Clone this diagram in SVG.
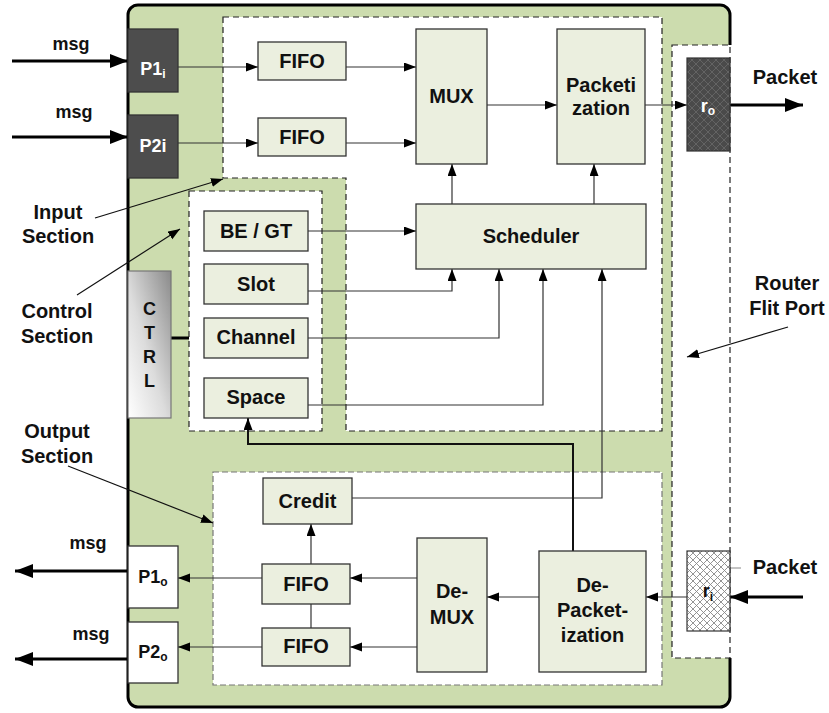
<svg xmlns="http://www.w3.org/2000/svg" width="829" height="713" viewBox="0 0 829 713">
  <defs>
    <style>
      text { font-family: "Liberation Sans", Arial, sans-serif; font-weight: bold; fill: #111; }
      .lbl { font-size: 20px; text-anchor: middle; }
      .port { font-size: 18px; text-anchor: middle; }
      .sub { font-size: 12px; }
      .box { fill: #ebefdf; stroke: #333; stroke-width: 1.3; }
      .dark { fill: #4d4d4d; stroke: #333; stroke-width: 1.3; }
      .white { fill: #fff; stroke: #333; stroke-width: 1.3; }
      .sect { fill: #fff; stroke: #222; stroke-width: 1.2; stroke-dasharray: 6 4; }
      .sect-grey { fill: #fff; stroke: #777; stroke-width: 1.2; stroke-dasharray: 6 3; }
      .wire { fill: none; stroke: #333; stroke-width: 1.2; }
      .wire-a { fill: none; stroke: #333; stroke-width: 1.2; marker-end: url(#arr); }
      .bold-a { fill: none; stroke: #000; stroke-width: 3; marker-end: url(#arrBig); }
      .note-a { fill: none; stroke: #111; stroke-width: 1.2; marker-end: url(#arr); }
      .ctrl-t { font-size: 18px; text-anchor: middle; }
    </style>
    <marker id="arr" markerUnits="userSpaceOnUse" markerWidth="13" markerHeight="10" refX="12" refY="4.5" orient="auto">
      <path d="M0,0 L12,4.5 L0,9 z" fill="#000"/>
    </marker>
    <marker id="arrBig" markerUnits="userSpaceOnUse" markerWidth="19" markerHeight="15" refX="18" refY="7" orient="auto">
      <path d="M0,0 L18,7 L0,14 z" fill="#000"/>
    </marker>
    <pattern id="hatchDark" patternUnits="userSpaceOnUse" width="8" height="8">
      <rect width="8" height="8" fill="#4a4a4a"/>
      <path d="M0,0 L8,8 M8,0 L0,8" stroke="#6a6a6a" stroke-width="0.8"/>
    </pattern>
    <pattern id="hatchLight" patternUnits="userSpaceOnUse" width="7" height="7">
      <rect width="7" height="7" fill="#fff"/>
      <path d="M0,0 L7,7 M7,0 L0,7" stroke="#888" stroke-width="0.9"/>
    </pattern>
    <linearGradient id="ctrlGrad" x1="0" y1="1" x2="1" y2="0">
      <stop offset="0" stop-color="#ffffff"/>
      <stop offset="0.45" stop-color="#dcdcdc"/>
      <stop offset="1" stop-color="#8a8a8a"/>
    </linearGradient>
  </defs>

  <!-- network interface body -->
  <g id="body">
    <rect x="128" y="5" width="602" height="702" rx="10" ry="10" fill="#ccdcae" stroke="#000" stroke-width="3"/>
  </g>

  <!-- sections -->
  <g id="input-section">
    <path class="sect" d="M223,17 L662,17 L662,431 L346,431 L346,178 L223,178 Z"/>
  </g>
  <g id="control-section">
    <rect class="sect" x="189" y="191" width="133" height="240"/>
  </g>
  <g id="output-section">
    <rect class="sect-grey" x="213" y="472" width="449" height="213"/>
  </g>
  <g id="router-flit-port">
    <rect x="672" y="45" width="60" height="613" fill="#fff"/>
    <rect class="sect" x="672" y="45" width="58" height="613" style="fill:none"/>
  </g>

  <!-- connectors -->
  <g id="connectors">
    <path class="bold-a" d="M12,61 L128,61"/>
    <path class="bold-a" d="M12,137 L128,137"/>
    <path class="wire-a" d="M178,67 L258,67"/>
    <path class="wire-a" d="M178,143 L258,143"/>
    <path class="wire-a" d="M346,67 L416,67"/>
    <path class="wire-a" d="M346,143 L416,143"/>
    <path class="wire-a" d="M487,105 L557,105"/>
    <path class="wire-a" d="M645,105 L687,105"/>
    <path class="bold-a" d="M730,105 L803,105"/>
    <path class="wire-a" d="M452,204 L452,164"/>
    <path class="wire-a" d="M594,204 L594,164"/>
    <path class="wire-a" d="M308,231 L416,231"/>
    <path class="wire-a" d="M308,291 L452,291 L452,269"/>
    <path class="wire-a" d="M308,338 L499,338 L499,269"/>
    <path class="wire-a" d="M308,405 L543,405 L543,269"/>
    <path class="wire-a" d="M352,498 L602,498 L602,269"/>
    <path d="M573,551 L573,444 L248,444 L248,418" fill="none" stroke="#111" stroke-width="2" marker-end="url(#arr)"/>
    <path class="wire-a" d="M687,597 L646,597"/>
    <path class="bold-a" d="M803,597 L730,597"/>
    <path class="wire-a" d="M539,597 L487,597"/>
    <path class="wire-a" d="M417,578 L350,578"/>
    <path class="wire-a" d="M417,647 L350,647"/>
    <path class="wire-a" d="M311,564 L311,524"/>
    <path class="wire" d="M311,604 L311,628"/>
    <path class="wire-a" d="M262,578 L178,578"/>
    <path class="wire-a" d="M262,647 L178,647"/>
    <path class="bold-a" d="M128,571 L15,571"/>
    <path class="bold-a" d="M128,659 L15,659"/>
    <path d="M171,338 L189,338" stroke="#000" stroke-width="3"/>
    <path d="M730,568 L741,568" stroke="#888" stroke-width="1"/>
    <!-- callout arrows -->
    <path class="note-a" d="M95,218 L223,179"/>
    <path class="note-a" d="M77,295 L180,229"/>
    <path class="note-a" d="M68,466 L213,523"/>
    <path class="note-a" d="M788,327 L687,357"/>
  </g>

  <!-- input ports -->
  <g id="p1i">
    <rect class="dark" x="128" y="29" width="50" height="63"/>
    <text class="port" x="153" y="75" style="fill:#fff">P1<tspan class="sub" dy="3">i</tspan></text>
  </g>
  <g id="p2i">
    <rect class="dark" x="128" y="115" width="50" height="63"/>
    <text class="port" x="153" y="152" style="fill:#fff">P2i</text>
  </g>

  <!-- input section blocks -->
  <g id="fifo-in1">
    <rect class="box" x="258" y="42" width="88" height="38"/>
    <text class="lbl" x="302" y="68">FIFO</text>
  </g>
  <g id="fifo-in2">
    <rect class="box" x="258" y="118" width="88" height="38"/>
    <text class="lbl" x="302" y="144">FIFO</text>
  </g>
  <g id="mux">
    <rect class="box" x="416" y="29" width="71" height="135"/>
    <text class="lbl" x="451.5" y="103">MUX</text>
  </g>
  <g id="packetization">
    <rect class="box" x="557" y="29" width="88" height="135"/>
    <text class="lbl" x="601" y="92">Packeti</text>
    <text class="lbl" x="601" y="115">zation</text>
  </g>
  <g id="scheduler">
    <rect class="box" x="416" y="204" width="230" height="65"/>
    <text class="lbl" x="531" y="243">Scheduler</text>
  </g>

  <!-- control section blocks -->
  <g id="be-gt">
    <rect class="box" x="204" y="211" width="104" height="40"/>
    <text class="lbl" x="256" y="238">BE / GT</text>
  </g>
  <g id="slot">
    <rect class="box" x="204" y="264" width="104" height="40"/>
    <text class="lbl" x="256" y="291">Slot</text>
  </g>
  <g id="channel">
    <rect class="box" x="204" y="318" width="104" height="40"/>
    <text class="lbl" x="256" y="344">Channel</text>
  </g>
  <g id="space">
    <rect class="box" x="204" y="378" width="104" height="40"/>
    <text class="lbl" x="256" y="404">Space</text>
  </g>
  <g id="ctrl">
    <rect x="128" y="271" width="43" height="147" fill="url(#ctrlGrad)" stroke="#777" stroke-width="1.2"/>
    <text class="ctrl-t" x="149.5" y="315">C</text>
    <text class="ctrl-t" x="149.5" y="339">T</text>
    <text class="ctrl-t" x="149.5" y="363">R</text>
    <text class="ctrl-t" x="149.5" y="387">L</text>
  </g>

  <!-- output section blocks -->
  <g id="credit">
    <rect class="box" x="263" y="478" width="89" height="46"/>
    <text class="lbl" x="307.5" y="508">Credit</text>
  </g>
  <g id="fifo-out1">
    <rect class="box" x="262" y="564" width="88" height="40"/>
    <text class="lbl" x="306" y="591">FIFO</text>
  </g>
  <g id="fifo-out2">
    <rect class="box" x="262" y="628" width="88" height="38"/>
    <text class="lbl" x="306" y="653">FIFO</text>
  </g>
  <g id="de-mux">
    <rect class="box" x="417" y="538" width="70" height="134"/>
    <text class="lbl" x="452" y="598">De-</text>
    <text class="lbl" x="452" y="624">MUX</text>
  </g>
  <g id="de-packetization">
    <rect class="box" x="539" y="551" width="107" height="121"/>
    <text class="lbl" x="592.5" y="592">De-</text>
    <text class="lbl" x="592.5" y="617">Packet-</text>
    <text class="lbl" x="592.5" y="642">ization</text>
  </g>

  <!-- output ports -->
  <g id="p1o">
    <rect class="white" x="128" y="546" width="50" height="62"/>
    <text class="port" x="153" y="583">P1<tspan class="sub" dy="3">o</tspan></text>
  </g>
  <g id="p2o">
    <rect class="white" x="128" y="622" width="50" height="61"/>
    <text class="port" x="153" y="658">P2<tspan class="sub" dy="3">o</tspan></text>
  </g>

  <!-- router side ports -->
  <g id="ro">
    <rect x="687" y="58" width="43" height="93" fill="url(#hatchDark)" stroke="#333" stroke-width="1.2"/>
    <text class="port" x="708" y="112" style="fill:#fff">r<tspan class="sub" dy="3">o</tspan></text>
  </g>
  <g id="ri">
    <rect x="687" y="551" width="43" height="80" fill="url(#hatchLight)" stroke="#333" stroke-width="1.2"/>
    <text class="port" x="708" y="597">r<tspan class="sub" dy="4">i</tspan></text>
  </g>

  <!-- free labels -->
  <g id="labels">
    <text class="port" x="71" y="50">msg</text>
    <text class="port" x="74" y="118">msg</text>
    <text class="port" x="88" y="549">msg</text>
    <text class="port" x="91" y="640">msg</text>
    <text class="lbl" x="785" y="84">Packet</text>
    <text class="lbl" x="785" y="574">Packet</text>
    <text class="lbl" x="58" y="219">Input</text>
    <text class="lbl" x="58" y="243">Section</text>
    <text class="lbl" x="57" y="318">Control</text>
    <text class="lbl" x="57" y="343">Section</text>
    <text class="lbl" x="57" y="438">Output</text>
    <text class="lbl" x="57" y="463">Section</text>
    <text class="lbl" x="787" y="290">Router</text>
    <text class="lbl" x="787" y="315">Flit Port</text>
  </g>
</svg>
